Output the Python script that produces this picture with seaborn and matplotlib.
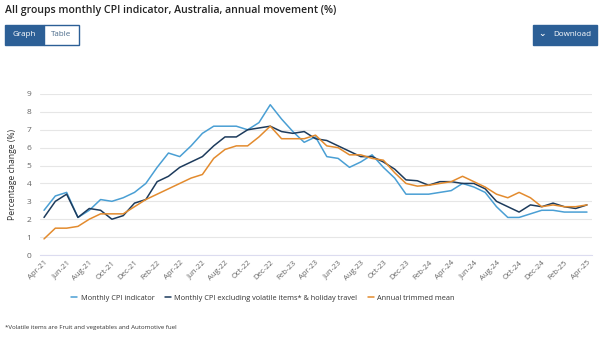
import numpy as np
import pandas as pd
import matplotlib
matplotlib.use("Agg")
import matplotlib.pyplot as plt
from matplotlib.patches import Rectangle
from matplotlib.lines import Line2D
import seaborn as sns

months = pd.date_range("2021-04-01", "2025-04-01", freq="MS").strftime("%b-%y").tolist()

monthly_cpi = [2.5, 3.3, 3.5, 2.1, 2.5, 3.1, 3.0, 3.2, 3.5, 4.0, 4.9, 5.7, 5.5, 6.1, 6.8,
               7.2, 7.2, 7.2, 7.0, 7.4, 8.4, 7.6, 6.9, 6.3, 6.6, 5.5, 5.4, 4.9, 5.2, 5.6,
               4.9, 4.3, 3.4, 3.4, 3.4, 3.5, 3.6, 4.0, 3.8, 3.5, 2.7, 2.1, 2.1, 2.3, 2.5,
               2.5, 2.4, 2.4, 2.4]
excl_volatile = [2.1, 3.0, 3.4, 2.1, 2.6, 2.5, 2.0, 2.2, 2.9, 3.1, 4.1, 4.4, 4.9, 5.2, 5.5,
                 6.1, 6.6, 6.6, 7.0, 7.1, 7.2, 6.9, 6.8, 6.9, 6.5, 6.4, 6.1, 5.8, 5.5, 5.5,
                 5.2, 4.8, 4.2, 4.15, 3.9, 4.1, 4.1, 4.0, 4.0, 3.7, 3.0, 2.7, 2.4, 2.8, 2.7,
                 2.9, 2.7, 2.6, 2.8]
trimmed_mean = [0.9, 1.5, 1.5, 1.6, 2.0, 2.3, 2.3, 2.3, 2.7, 3.1, 3.4, 3.7, 4.0, 4.3, 4.5,
                5.4, 5.9, 6.1, 6.1, 6.6, 7.2, 6.5, 6.5, 6.5, 6.7, 6.1, 6.0, 5.6, 5.6, 5.4,
                5.3, 4.6, 4.0, 3.85, 3.9, 4.0, 4.1, 4.4, 4.1, 3.8, 3.4, 3.2, 3.5, 3.2, 2.7,
                2.8, 2.7, 2.7, 2.8]

series_names = ["Monthly CPI indicator",
                "Monthly CPI excluding volatile items* & holiday travel",
                "Annual trimmed mean"]
colors = ["#4a9fd4", "#1d3b5c", "#e38b2e"]

idx = np.arange(len(months))
df = pd.concat([
    pd.DataFrame({"x": idx, "value": monthly_cpi, "series": series_names[0]}),
    pd.DataFrame({"x": idx, "value": excl_volatile, "series": series_names[1]}),
    pd.DataFrame({"x": idx, "value": trimmed_mean, "series": series_names[2]}),
])

sns.set_theme(style="white")
plt.rcParams["font.family"] = ["Open Sans", "DejaVu Sans"]

W, H = 602, 338
fig = plt.figure(figsize=(W / 100, H / 100), dpi=100)
ax = fig.add_axes([39.5 / W, (H - 255) / H, 552 / W, 161 / H])

sns.lineplot(data=df, x="x", y="value", hue="series", hue_order=series_names,
             palette=colors, linewidth=1.1, ax=ax, legend=False)

ax.set_xlim(-0.4, len(months) - 1 + 0.4)
ax.set_ylim(0, 9)
ax.set_yticks(range(0, 10))
ax.set_yticklabels([str(i) for i in range(0, 10)], fontsize=6, color="#666666")
ax.set_xticks(idx[::2])
ax.set_xticklabels(months[::2], rotation=45, ha="right", rotation_mode="anchor",
                   fontsize=5.6, color="#666666")
ax.tick_params(axis="both", length=0, pad=3)
ax.tick_params(axis="y", pad=6)
ax.grid(axis="y", color="#e6e6e6", linewidth=0.8)
ax.set_axisbelow(True)
for s in ["top", "right", "left"]:
    ax.spines[s].set_visible(False)
ax.spines["bottom"].set_color("#dcdcf0")
ax.spines["bottom"].set_linewidth(0.8)
ax.set_xlabel("")
ax.set_ylabel("Percentage change (%)", fontsize=6.2, color="#333333", labelpad=7)

# Title
fig.text(5 / W, 1 - 11 / H, "All groups monthly CPI indicator, Australia, annual movement (%)",
         fontsize=7.6, color="#222222", va="center", ha="left", fontweight="semibold")

# Buttons
blue = "#2c5f96"
fig.patches.append(Rectangle((5 / W, 1 - 45 / H), 39 / W, 20 / H, transform=fig.transFigure,
                             facecolor=blue, edgecolor=blue, linewidth=1))
fig.patches.append(Rectangle((44 / W, 1 - 45 / H), 35 / W, 20 / H, transform=fig.transFigure,
                             facecolor="white", edgecolor=blue, linewidth=1))
fig.text(24.5 / W, 1 - 35 / H, "Graph", fontsize=5.8, color="white", ha="center", va="center")
fig.text(61.5 / W, 1 - 35 / H, "Table", fontsize=5.8, color="#4a6a8a", ha="center", va="center")
fig.patches.append(Rectangle((533 / W, 1 - 45 / H), 64 / W, 20 / H, transform=fig.transFigure,
                             facecolor=blue, edgecolor=blue, linewidth=1))
fig.text(542 / W, 1 - 34 / H, "\u2304", fontsize=6.5, color="white", ha="center", va="center",
         family=["DejaVu Sans"], fontweight="bold")
fig.text(572 / W, 1 - 35 / H, "Download", fontsize=5.8, color="white", ha="center", va="center")

# Legend
handles = [Line2D([0], [0], color=c, linewidth=1.1) for c in colors]
fig.legend(handles, series_names, loc="center", bbox_to_anchor=(263 / W, 1 - 298 / H),
           ncol=3, frameon=False, fontsize=5.3, handlelength=0.8, handletextpad=0.5,
           columnspacing=1.4, labelcolor="#333333")

# Footnote
fig.text(5 / W, 1 - 328 / H, "*Volatile items are Fruit and vegetables and Automotive fuel",
         fontsize=4.4, color="#333333", ha="left", va="center")

fig.savefig("out.png", dpi=100)
